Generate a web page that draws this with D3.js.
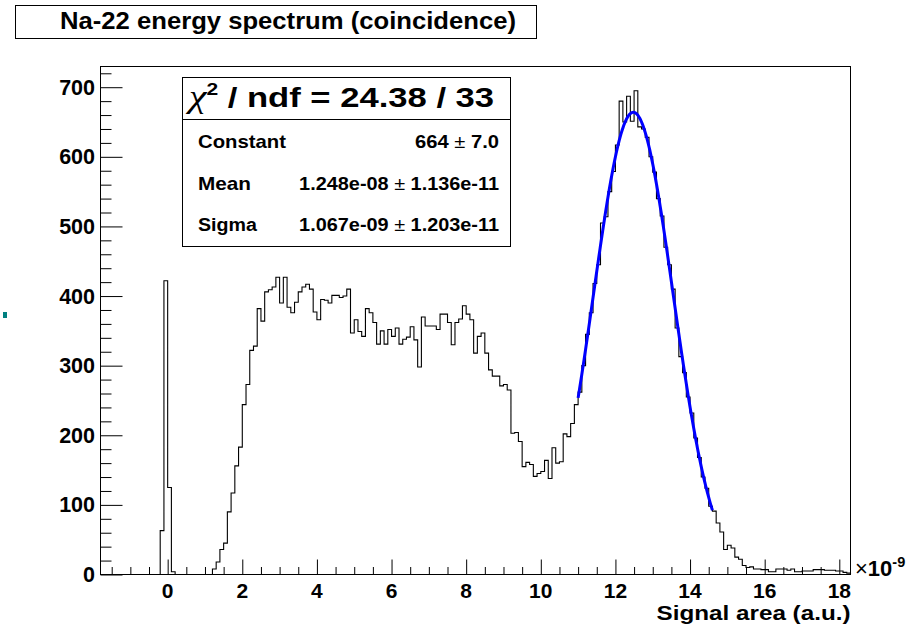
<!DOCTYPE html>
<html>
<head>
<meta charset="utf-8">
<script src="https://cdn.jsdelivr.net/npm/d3@7"></script>
<style>
  html, body { margin: 0; padding: 0; background: #fff; }
  svg { display: block; }
  text { font-family: "Liberation Sans", Arial, Helvetica, sans-serif; font-weight: bold; fill: #000; }
</style>
</head>
<body>
<svg id="chart" width="920" height="628"></svg>
<script>
// ---- Histogram: Na-22 signal area spectrum, bins of 0.1 (x10^-9) starting at -1.8 ----
const binStart = -1.8;
const binWidth = 0.1;
const counts = [
  0, 0, 0, 0, 0, 0, 0, 0, 0, 0,              // -1.8 .. -0.9
  0, 0, 0, 0, 0, 0, 63, 422, 125, 4,         // -0.8 .. 0.1
  0, 0, 0, 0, 0, 0, 0, 0, 0, 0,              // 0.2 .. 1.1
  8, 18, 36, 45, 90, 117, 156, 183, 244, 273,           // 1.2 .. 2.1
  322, 328, 382, 364, 406, 409, 413, 427, 390, 427,     // 2.2 .. 3.1
  384, 376, 391, 406, 413, 417, 410, 377, 366, 395,     // 3.2 .. 4.1
  394, 390, 401, 401, 398, 400, 410, 347, 366, 349,     // 4.2 .. 5.1
  342, 382, 376, 362, 331, 350, 331, 352, 342, 354,     // 5.2 .. 6.1
  331, 338, 341, 356, 337, 298, 370, 357, 357, 357,     // 6.2 .. 7.1
  352, 374, 374, 362, 330, 362, 367, 386, 374, 366,     // 7.2 .. 8.1
  318, 342, 347, 318, 294, 285, 285, 271, 273, 265,     // 8.2 .. 9.1
  203, 204, 191, 155, 161, 158, 141, 145, 148, 164,     // 9.2 .. 10.1
  138, 182, 160, 162, 202, 198, 217, 244, 262, 300,     // 10.2 .. 11.1
  345, 376, 418, 445, 505, 514, 550, 579, 617, 680,     // 11.2 .. 12.1
  650, 687, 651, 695, 643, 640, 628, 600, 578, 540,     // 12.2 .. 13.1
  515, 470, 445, 410, 354, 313, 290, 255, 232, 196,     // 13.2 .. 14.1
  168, 140, 124, 98, 91, 74, 61, 36, 42, 38,            // 14.2 .. 15.1
  25, 22, 13, 10, 11, 8, 8, 7, 7, 4,                    // 15.2 .. 16.1
  4, 8, 8, 8, 6, 8, 4, 4, 5, 5,                         // 16.2 .. 17.1
  5, 7, 7, 7, 6, 6, 6, 5, 5, 3,                         // 17.2 .. 18.1
  2                                                     // 18.2
];

// ---- Gaussian fit summary ----
const chi2 = "24.38", ndf = "33";
const statNames  = ["Constant", "Mean", "Sigma"];
const statValues = ["664", "1.248e-08", "1.067e-09"];
const statErrors = ["7.0", "1.136e-11", "1.203e-11"];
const fitRange = [11.0, 14.6];          // in units of 1e-9

// ---- Axis ticks ----
const xMajorTicks = [0, 2, 4, 6, 8, 10, 12, 14, 16, 18];
const yMajorTicks = [0, 100, 200, 300, 400, 500, 600, 700];

const titleText = "Na-22 energy spectrum (coincidence)";
const xAxisTitle = "Signal area (a.u.)";

// ---- Layout ----
const frame = { left: 100.5, right: 850.5, top: 66.5, bottom: 574.5 };
const xDomain = [binStart, binStart + counts.length * binWidth];
const yMax = 1.05 * d3.max(counts);

const svg = d3.select("#chart");
svg.append("rect").attr("width", 920).attr("height", 628).attr("fill", "#fff");

const x = d3.scaleLinear().domain(xDomain).range([frame.left, frame.right]);
const y = d3.scaleLinear().domain([0, yMax]).range([frame.bottom, frame.top]);

// Stretch a text element horizontally to a given width around its anchor point
function fitWidth(sel, width, anchorX) {
  const w = sel.node().getBBox().width;
  if (!w) return;
  const k = width / w;
  sel.attr("transform", `translate(${anchorX},0) scale(${k},1) translate(${-anchorX},0)`);
}

// ---- Title box ----
svg.append("rect")
  .attr("x", 15.5).attr("y", 5.5).attr("width", 521).attr("height", 33)
  .attr("fill", "#fff").attr("stroke", "#000").attr("stroke-width", 1);
const title = svg.append("text")
  .attr("x", 288).attr("y", 29.5).attr("text-anchor", "middle")
  .attr("font-size", 24).text(titleText);
fitWidth(title, 456, 288);

// ---- Axes (ticks drawn inward, ROOT style) ----
const xMinorTicks = d3.range(-1.5, 18.3, 0.5).filter(v => !xMajorTicks.includes(Math.round(v * 10) / 10));
const yMinorTicks = d3.range(20, yMax, 20).filter(v => v % 100 !== 0);

const gx = svg.append("g").attr("transform", `translate(0,${frame.bottom})`);
gx.call(d3.axisBottom(x).tickValues(xMajorTicks).tickSize(-15).tickSizeOuter(0).tickFormat(""));
gx.append("g").call(d3.axisBottom(x).tickValues(xMinorTicks).tickSize(-7.5).tickSizeOuter(0).tickFormat(""));
gx.selectAll(".domain").remove();

const gy = svg.append("g").attr("transform", `translate(${frame.left},0)`);
gy.call(d3.axisLeft(y).tickValues(yMajorTicks).tickSize(-22).tickSizeOuter(0).tickFormat(""));
gy.append("g").call(d3.axisLeft(y).tickValues(yMinorTicks).tickSize(-11).tickSizeOuter(0).tickFormat(""));
gy.selectAll(".domain").remove();
svg.selectAll(".tick line").attr("stroke", "#000").attr("stroke-width", 1);

// Tick labels
svg.append("g").selectAll("text").data(xMajorTicks).join("text")
  .attr("x", d => x(d)).attr("y", 598).attr("text-anchor", "middle")
  .attr("font-size", 21).text(d => d);
svg.append("g").selectAll("text").data(yMajorTicks).join("text")
  .attr("x", 95).attr("y", d => y(d) + 7.5).attr("text-anchor", "end")
  .attr("font-size", 21.5).text(d => d);

// Axis title and exponent
const xt = svg.append("text").attr("x", frame.right).attr("y", 620).attr("text-anchor", "end")
  .attr("font-size", 20.5).text(xAxisTitle);
fitWidth(xt, 194, frame.right);
const expo = svg.append("text").attr("x", 855).attr("y", 576).attr("font-size", 22);
expo.append("tspan").attr("font-weight", "normal").text("\u00d7");
expo.append("tspan").text("10");
expo.append("tspan").attr("font-size", 14.5).attr("dy", -9).text("-9");

// ---- Histogram outline ----
const pts = [[x(binStart), y(0)]];
counts.forEach((c, i) => {
  const lo = binStart + i * binWidth, hi = lo + binWidth;
  pts.push([x(lo), y(c)], [x(hi), y(c)]);
});
pts.push([x(xDomain[1]), y(0)]);
svg.append("path")
  .attr("d", d3.line()(pts))
  .attr("fill", "none").attr("stroke", "#000").attr("stroke-width", 1.1);

// ---- Gaussian fit curve from the fitted parameters ----
const A = +statValues[0];
const mu = +statValues[1] * 1e9;
const sigma = +statValues[2] * 1e9;
const fitXs = d3.range(fitRange[0], fitRange[1] + 1e-9, 0.02);
svg.append("path")
  .attr("d", d3.line().x(v => x(v)).y(v => y(A * Math.exp(-0.5 * ((v - mu) / sigma) ** 2)))(fitXs))
  .attr("fill", "none").attr("stroke", "#0000ff").attr("stroke-width", 3);

// ---- Frame ----
svg.append("rect")
  .attr("x", frame.left).attr("y", frame.top)
  .attr("width", frame.right - frame.left).attr("height", frame.bottom - frame.top)
  .attr("fill", "none").attr("stroke", "#000").attr("stroke-width", 1);

// ---- Fit statistics box ----
const box = { left: 182.5, right: 510.5, top: 77.5, sep: 119.5, bottom: 246.5 };
svg.append("rect")
  .attr("x", box.left).attr("y", box.top)
  .attr("width", box.right - box.left).attr("height", box.bottom - box.top)
  .attr("fill", "#fff").attr("stroke", "#000").attr("stroke-width", 1);
svg.append("line")
  .attr("x1", box.left).attr("x2", box.right).attr("y1", box.sep).attr("y2", box.sep)
  .attr("stroke", "#000").attr("stroke-width", 1);

const head = svg.append("text").attr("x", 189).attr("y", 107).attr("font-size", 28);
head.append("tspan").attr("font-weight", "normal").attr("font-family", "Liberation Serif, serif").attr("font-style", "italic").attr("font-size", 32).text("\u03c7");
head.append("tspan").attr("font-size", 17).attr("dy", -12).text("2");
head.append("tspan").attr("dy", 12).text(` / ndf = ${chi2} / ${ndf}`);
fitWidth(head, 309, 189);

const rowY = [148, 190, 231];
const nameWidths = [88, 53, 60];
const valueWidths = [84, 200, 200];
statNames.forEach((name, i) => {
  const t = svg.append("text").attr("x", 198).attr("y", rowY[i]).attr("font-size", 18).text(name);
  fitWidth(t, nameWidths[i], 198);
  const v = svg.append("text").attr("x", 499).attr("y", rowY[i]).attr("font-size", 18).attr("text-anchor", "end");
  v.append("tspan").text(statValues[i] + " ");
  v.append("tspan").attr("font-weight", "normal").text("\u00b1");
  v.append("tspan").text(" " + statErrors[i]);
  fitWidth(v, valueWidths[i], 499);
});

// stray marker at the left edge
svg.append("rect").attr("x", 3).attr("y", 312).attr("width", 4).attr("height", 6).attr("fill", "#008080");
</script>
</body>
</html>
